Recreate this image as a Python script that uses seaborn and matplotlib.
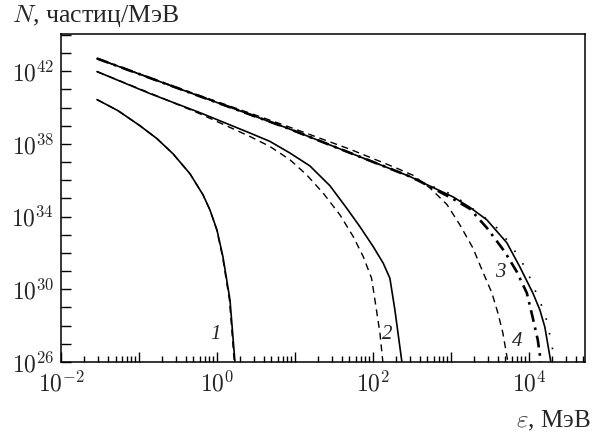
import numpy as np
import pandas as pd
import matplotlib
matplotlib.use("Agg")
import matplotlib.pyplot as plt
import matplotlib.ticker as mticker
import seaborn as sns

# =========================
# Data (log10 values)
# =========================
# curve 1
c1_solid_x = [-1.538, -1.269, -0.987, -0.769, -0.564, -0.346, -0.179, -0.090, 0.0, 0.077, 0.167, 0.231]
c1_solid_y = [40.44, 39.83, 39.00, 38.29, 37.46, 36.36, 35.20, 34.37, 33.27, 31.79, 29.42, 26.0]
c1_dash_x = [-1.538, -1.269, -0.987, -0.769, -0.564, -0.346, -0.179, -0.090, -0.003, 0.072, 0.160, 0.222]
c1_dash_y = [40.44, 39.83, 39.00, 38.29, 37.46, 36.36, 35.20, 34.37, 33.27, 31.79, 29.42, 26.0]

# curve 2
c2_solid_x = [-1.538, -0.859, -0.218, 0.423, 0.679, 0.936, 1.192, 1.449, 1.663, 1.833, 2.004, 2.132, 2.218, 2.282, 2.372]
c2_solid_y = [41.98, 40.77, 39.72, 38.60, 38.14, 37.50, 36.79, 35.70, 34.47, 33.45, 32.35, 31.44, 30.61, 28.87, 26.0]
c2_dash_x = [-1.538, -0.859, -0.218, 0.423, 0.679, 0.936, 1.150, 1.363, 1.577, 1.748, 1.876, 1.983, 2.026, 2.090, 2.128]
c2_dash_y = [41.98, 40.80, 39.66, 38.41, 37.86, 37.13, 36.30, 35.29, 34.10, 32.90, 31.80, 30.61, 29.42, 27.60, 26.0]

# curves 3 / 4 (upper group)
c3_solid_x = [-1.538, -0.346, 0.897, 1.705, 2.474, 2.603, 3.026, 3.244, 3.462, 3.718, 3.885, 4.051, 4.141, 4.205, 4.282]
c3_solid_y = [42.70, 40.82, 38.88, 37.51, 36.21, 35.94, 35.09, 34.51, 33.82, 32.56, 31.23, 29.80, 28.87, 27.93, 26.0]
c3_dashdot_x = [-1.538, -0.346, 0.897, 1.705, 2.474, 2.603, 3.026, 3.244, 3.462, 3.692, 3.846, 3.974, 4.051, 4.115, 4.154]
c3_dashdot_y = [42.70, 40.82, 38.88, 37.51, 36.21, 35.94, 34.98, 34.43, 33.38, 32.06, 30.96, 29.80, 28.42, 27.21, 26.0]
c3_dot_x = [-1.538, -0.346, 0.897, 1.705, 2.474, 2.603, 3.026, 3.410, 3.590, 3.718, 3.846, 3.949, 4.038, 4.115, 4.205, 4.256, 4.295, 4.333]
c3_dot_y = [42.70, 40.82, 38.88, 37.51, 36.21, 35.94, 35.20, 34.04, 33.38, 32.72, 31.95, 31.23, 30.41, 29.58, 28.70, 27.76, 26.94, 26.0]
c4_dash_x = [-1.538, -0.346, 0.897, 1.705, 2.308, 2.513, 2.731, 2.949, 3.115, 3.282, 3.410, 3.526, 3.603, 3.667, 3.731]
c4_dash_y = [42.70, 40.85, 38.98, 37.71, 36.66, 36.28, 35.58, 34.67, 33.55, 32.28, 30.96, 29.80, 28.70, 27.60, 26.0]

curve_labels = ["1", "2", "3", "4"]
label_x = [0.97, 155, 4270, 7000]
label_y = [10**27.5, 10**27.5, 10**30.95, 10**27.1]

# =========================
# Style
# =========================
sns.set_style("ticks")
plt.rcParams["font.family"] = ["Liberation Serif", "DejaVu Serif"]
plt.rcParams["mathtext.fontset"] = "cm"

fig = plt.figure(figsize=(6.04, 4.33), dpi=100)
ax = fig.add_axes([0.101, 0.164, 0.8675, 0.7575])
ax.set_xscale("log")
ax.set_yscale("log")

dashed = (0, (5, 3.5))
curves = [
    (c1_solid_x, c1_solid_y, "-", 1.2),
    (c1_dash_x, c1_dash_y, dashed, 1.0),
    (c2_solid_x, c2_solid_y, "-", 1.2),
    (c2_dash_x, c2_dash_y, dashed, 1.0),
    (c4_dash_x, c4_dash_y, dashed, 1.0),
    (c3_dot_x, c3_dot_y, (0, (1, 8)), 1.2),
    (c3_solid_x, c3_solid_y, "-", 1.2),
    (c3_dashdot_x, c3_dashdot_y, (0, (4.5, 2.2, 1, 2.2)), 1.9),
]
for xs, ys, ls, lw in curves:
    df = pd.DataFrame({"e": 10 ** np.array(xs), "n": 10 ** np.array(ys)})
    sns.lineplot(data=df, x="e", y="n", ax=ax, color="black",
                 linestyle=ls, linewidth=lw, estimator=None, sort=False)

for lab, lx, ly in zip(curve_labels, label_x, label_y):
    ax.text(lx, ly, lab, fontsize=15, fontstyle="italic", ha="center", va="center")

ax.set_xlim(1e-2, 10**4.72)
ax.set_ylim(1e26, 10**44.05)
ax.set_xlabel("")
ax.set_ylabel("")

ax.xaxis.set_major_locator(mticker.LogLocator(base=10, numticks=20))
ax.xaxis.set_minor_locator(mticker.LogLocator(base=10, subs=np.arange(2, 10), numticks=20))
ax.xaxis.set_major_formatter(mticker.FuncFormatter(
    lambda v, p: r"$10^{%d}$" % round(np.log10(v)) if round(np.log10(v)) % 2 == 0 else ""))
ax.yaxis.set_major_locator(mticker.FixedLocator([10.0 ** k for k in range(26, 45)]))
ax.yaxis.set_minor_locator(mticker.NullLocator())
ax.yaxis.set_major_formatter(mticker.FuncFormatter(
    lambda v, p: r"$10^{%d}$" % round(np.log10(v)) if round(np.log10(v)) % 4 == 2 else ""))

ax.tick_params(axis="both", which="both", direction="in", top=False, right=False,
               color="black", width=1.0)
ax.tick_params(axis="both", which="major", length=7, labelsize=17)
ax.tick_params(axis="x", which="major", pad=7)
ax.tick_params(axis="y", which="major", pad=5)
ax.tick_params(axis="x", which="minor", length=4)
for s in ax.spines.values():
    s.set_visible(True)
    s.set_linewidth(1.1)
    s.set_color("black")

fig.text(0.02, 0.962, r"$N$, частиц/МэВ", fontsize=18.5, ha="left", va="center")
fig.text(0.977, 0.027, r"$\varepsilon$, МэВ", fontsize=18, ha="right", va="center")

fig.savefig("out.png", dpi=100)
